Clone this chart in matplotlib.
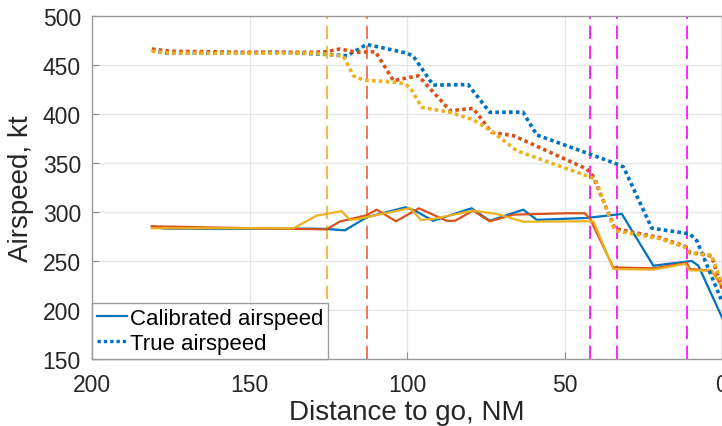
import matplotlib
matplotlib.use("Agg")
import matplotlib.pyplot as plt
from matplotlib.lines import Line2D

plt.rcParams['font.family'] = ['Liberation Sans', 'DejaVu Sans']

# Distance to go (NM) and airspeeds (kt) for three flights
d_cas_1 = [181, 177, 160, 130, 125.5, 119.7, 112.8, 100.5, 97.5, 91.7, 79.5, 73.7, 63.1, 58.8, 43, 31.8, 21.8, 9.6, 7.5, 0]
cas_1 = [285.4, 283, 282.7, 283, 282.7, 281.3, 294.6, 304.8, 301.4, 291, 303.8, 291, 302.4, 292, 293.9, 298, 245.2, 250, 245.2, 192.5]

d_cas_2 = [181, 150, 125.5, 121.3, 112.8, 109.6, 103.5, 96.2, 87.4, 84.8, 79, 73.7, 66.2, 49.3, 43.5, 41.9, 34.5, 21.8, 11.2, 10.2, 3.3, 0]
cas_2 = [285.4, 283.5, 282.3, 290.3, 296.7, 302.4, 290.5, 303.8, 291, 291, 301.4, 290.5, 297.3, 298.7, 298.7, 293, 243.5, 242.5, 248, 241.8, 240.1, 224]

d_cas_3 = [181, 136, 128.7, 120.8, 118.1, 116, 99, 95.6, 91.7, 79, 71.5, 63.1, 43.5, 40.8, 34.5, 21.8, 11.7, 10.2, 3.3, 0]
cas_3 = [283.4, 283.4, 296.3, 300.9, 292, 292.6, 304, 291.8, 292.9, 301.4, 298, 290.1, 290.5, 290.3, 241.8, 241.2, 247, 240.5, 240.1, 224.8]

d_tas_1 = [181, 177, 160, 140, 127, 119, 112.8, 107, 102, 100, 98, 91.7, 80.6, 73.7, 63.2, 58.8, 41.9, 33.4, 31.3, 22.3, 10.2, 8, 0.3]
tas_1 = [465.5, 462, 462, 463, 461, 459.5, 471, 467, 463.5, 462, 459, 429.5, 430, 401.7, 402, 378.6, 359, 349, 346, 283.5, 277.6, 270.7, 211]

d_tas_2 = [181, 175, 150, 130, 125.5, 121.3, 116, 110, 104.3, 99, 96.4, 86.3, 79, 73.1, 66.2, 43, 41, 34, 20, 11.7, 10.2, 3.3, 0]
tas_2 = [466.3, 464, 463, 463, 463.6, 466.3, 463, 463.5, 434, 437.4, 439, 403.4, 405.8, 381.3, 377.9, 344, 337, 283, 274, 265, 259, 255, 222]

d_tas_3 = [181, 175, 130, 125.5, 120.2, 117, 113.9, 104.4, 101, 99, 95.3, 86.3, 79, 72.6, 65.2, 57.8, 43, 40.3, 34, 20, 11.7, 10.2, 3.3, 0]
tas_3 = [464, 462, 462, 461, 459, 439, 434.7, 432.6, 431, 427, 406.8, 401.7, 394.2, 381.3, 362.6, 354, 337, 333.7, 281, 273, 264, 258, 256, 226]

# Event markers (distance to go, NM)
event_yellow = [125.5]
event_red = [112.8]
event_magenta = [41.9, 33.4, 11.2]

colors = ['#0072BD', '#D95319', '#EDB120']

fig = plt.figure(figsize=(7.22, 4.27), dpi=100)
ax = fig.add_axes([92 / 722, 67 / 427, 630 / 722, 343 / 427])

for x in event_yellow:
    ax.axvline(x, color='#EDB120', lw=1.2, dashes=(8, 4), zorder=1)
for x in event_red:
    ax.axvline(x, color='#E8643A', lw=1.2, dashes=(8, 4), zorder=1)
for x in event_magenta:
    ax.axvline(x, color='#FF00FF', lw=1.2, dashes=(8, 4), zorder=1)

dot = (0, (1.0, 0.9))
for d, v, c in [(d_cas_1, cas_1, colors[0]), (d_cas_2, cas_2, colors[1]), (d_cas_3, cas_3, colors[2])]:
    ax.plot(d, v, color=c, lw=1.6, zorder=3)
for d, v, c in [(d_tas_1, tas_1, colors[0]), (d_tas_2, tas_2, colors[1]), (d_tas_3, tas_3, colors[2])]:
    ax.plot(d, v, color=c, lw=2.6, linestyle=dot, zorder=3)

ax.set_xlim(200, 0)
ax.set_ylim(150, 500)
ax.set_xticks([200, 150, 100, 50, 0])
ax.set_yticks([150, 200, 250, 300, 350, 400, 450, 500])
ax.grid(True, color='#E6E6E6', lw=0.9)
ax.set_axisbelow(True)
for s in ax.spines.values():
    s.set_color('#9A9A9A')
    s.set_linewidth(1.0)
ax.tick_params(direction='in', length=5, color='#8C8C8C', labelsize=16.5,
               labelcolor='#262626', pad=8)
ax.tick_params(axis='x', pad=10)

ax.set_xlabel('Distance to go, NM', fontsize=20, color='#262626', labelpad=2.5)
ax.set_ylabel('Airspeed, kt', fontsize=20, color='#262626', labelpad=6)

handles = [Line2D([], [], color=colors[0], lw=1.6),
           Line2D([], [], color=colors[0], lw=2.4, linestyle=dot)]
leg = ax.legend(handles, ['Calibrated airspeed', 'True airspeed'], loc='lower left',
                bbox_to_anchor=(0, 0), borderaxespad=0, fontsize=16, fancybox=False,
                framealpha=1, edgecolor='#9A9A9A', handlelength=1.35, handletextpad=0.15,
                borderpad=0.22, labelspacing=0.2)
leg.get_frame().set_linewidth(1.0)
leg.set_zorder(5)

fig.savefig('out.png', dpi=100)
